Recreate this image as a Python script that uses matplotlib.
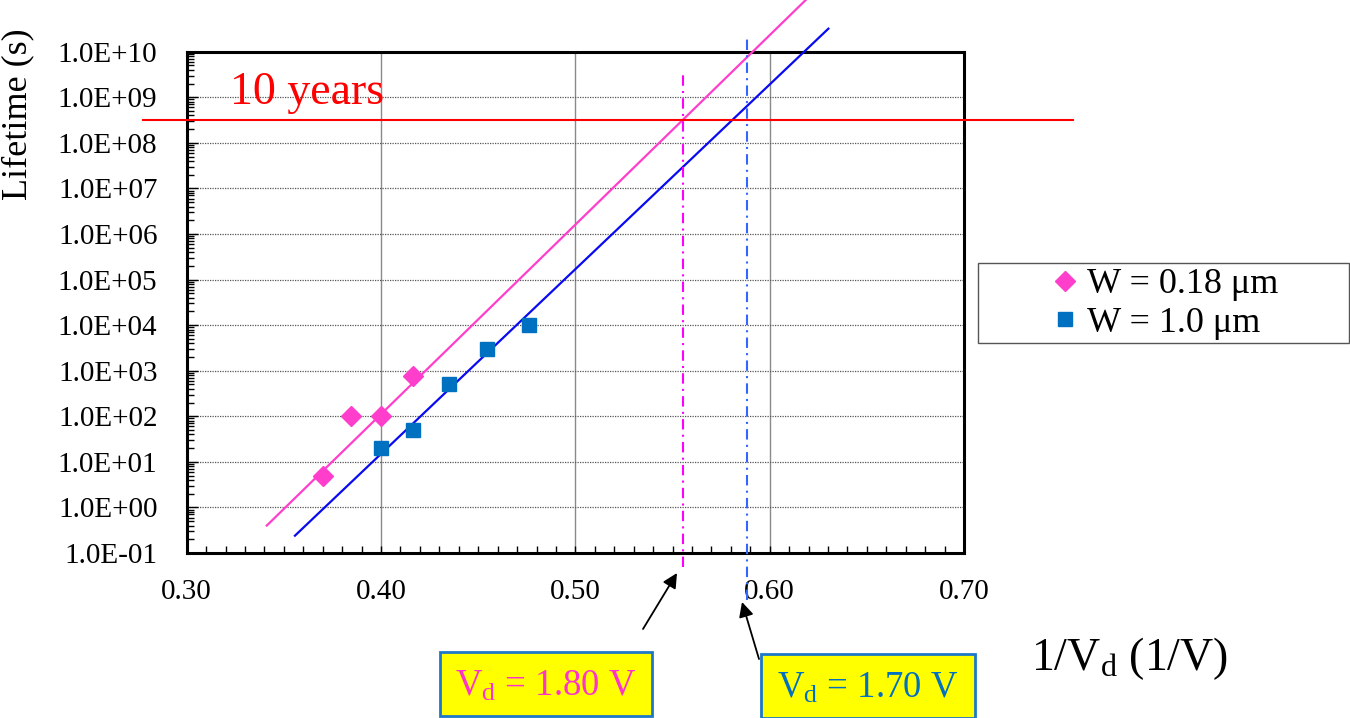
import matplotlib
matplotlib.use("Agg")
import matplotlib.pyplot as plt
from matplotlib.ticker import MultipleLocator, LogLocator, FuncFormatter, NullFormatter
from matplotlib.patches import Rectangle, FancyArrowPatch

plt.rcParams['font.family'] = ['Liberation Serif', 'DejaVu Serif']
plt.rcParams['mathtext.fontset'] = 'custom'
plt.rcParams['mathtext.rm'] = 'Liberation Serif'
plt.rcParams['mathtext.it'] = 'Liberation Serif:italic'

# ---- data ----
w018_x = [0.370, 0.3846, 0.400, 0.4167]
w018_y = [5.0, 100.0, 100.0, 750.0]
w10_x = [0.400, 0.4167, 0.4348, 0.4545, 0.476]
w10_y = [20.0, 50.0, 500.0, 3000.0, 10000.0]

fit018_x = [0.3412, 0.624]
fit018_y = [0.40, 2.3e11]
fit10_x = [0.3557, 0.6302]
fit10_y = [0.24, 3.2e10]

ten_years_s = 3.15e8
ten_years_x = [0.2775, 0.7561]
vd180_x = 1 / 1.80
vd170_x = 1 / 1.70
vd180_y = [0.05, 3.5e9]
vd170_y = [0.0095, 2.3e10]

xlim = (0.30, 0.70)
ylim = (1e-1, 1e10)
label_018 = 'W = 0.18 μm'
label_10 = 'W = 1.0 μm'

pink = '#FF3FCB'
pink_line = '#FF3FCB'
blue_sq = '#0070C0'
blue_line = '#0A0AF0'

fig = plt.figure(figsize=(13.5, 7.18), dpi=100)
ax = fig.add_axes([0.1383, 0.2298, 0.5758, 0.6982])

ax.set_yscale('log')
ax.set_xlim(*xlim)
ax.set_ylim(*ylim)

# grid
ax.yaxis.grid(True, which='major', color='#555555', linestyle=(0, (1, 1)), linewidth=0.9, zorder=0)
ax.xaxis.grid(True, which='major', color='#8a8a8a', linestyle='-', linewidth=1.0, zorder=0)
ax.set_axisbelow(True)

# fit lines
ax.plot(fit018_x, fit018_y, color=pink_line, lw=1.6, clip_on=False, zorder=3)
ax.plot(fit10_x, fit10_y, color=blue_line, lw=1.6, clip_on=False, zorder=3)

# 10 years line
ax.plot(ten_years_x, [ten_years_s, ten_years_s], color='#FF0000', lw=1.5, clip_on=False, zorder=3)

# vertical dash-dot lines
ax.plot([vd180_x, vd180_x], vd180_y, color='#FF00FF', lw=1.5, linestyle=(0, (5, 2.5, 1, 2.5)), clip_on=False, zorder=3)
ax.plot([vd170_x, vd170_x], vd170_y, color='#3366FF', lw=1.5, linestyle=(0, (5, 2.5, 1, 2.5)), clip_on=False, zorder=3)

# markers
h1, = ax.plot(w018_x, w018_y, linestyle='none', marker='D', ms=10.5, color=pink, mec=pink, zorder=4, label=label_018)
h2, = ax.plot(w10_x, w10_y, linestyle='none', marker='s', ms=10, color=blue_sq, mec=blue_sq, zorder=4, label=label_10)

# ticks
ax.xaxis.set_major_locator(MultipleLocator(0.1))
ax.xaxis.set_minor_locator(MultipleLocator(0.01))
ax.xaxis.set_major_formatter(FuncFormatter(lambda v, p: f"{v:.2f}"))
ax.yaxis.set_major_locator(LogLocator(base=10, numticks=20))
ax.yaxis.set_minor_locator(LogLocator(base=10, subs=range(2, 10), numticks=20))
ax.yaxis.set_major_formatter(FuncFormatter(lambda v, p: f"{v:.1E}"))
ax.yaxis.set_minor_formatter(NullFormatter())
ax.tick_params(axis='both', which='both', direction='in', top=False, right=False, width=1.0, color='black')
ax.tick_params(axis='x', which='major', length=5, labelsize=21, pad=19)
ax.tick_params(axis='x', which='minor', length=5)
ax.tick_params(axis='y', which='major', length=8, labelsize=21, pad=21)
ax.tick_params(axis='y', which='minor', length=5)

for s in ax.spines.values():
    s.set_linewidth(2.2)
    s.set_color('black')

# texts
fig.text(230 / 1350, 1 - 104 / 718, '10 years', color='#FF0000', fontsize=33, ha='left', va='baseline')
fig.text(18 / 1350, 1 - 114 / 718, 'Lifetime (s)', fontsize=26, rotation=90, ha='center', va='center')
fig.text(1130 / 1350, 1 - 670 / 718, r'1/V$_{\mathrm{d}}$ (1/V)', fontsize=33, ha='center', va='baseline')

# legend box
fig.patches.append(Rectangle((978 / 1350, 1 - 343 / 718), 371 / 1350, 80 / 718,
                             transform=fig.transFigure, facecolor='white', edgecolor='#555555', lw=1.0))
leg = fig.legend(handles=[h1, h2], loc='center', bbox_to_anchor=(1166 / 1350, 1 - 304 / 718),
                 frameon=False, fontsize=26, handlelength=0.6, handletextpad=0.3,
                 labelspacing=0.15, borderpad=0.2, markerscale=1.0)

# yellow boxes
fig.patches.append(Rectangle((440 / 1350, 1 - 716 / 718), 212 / 1350, 64 / 718,
                             transform=fig.transFigure, facecolor='#FFFF00', edgecolor='#1E78C8', lw=2.0))
fig.patches.append(Rectangle((761 / 1350, 1 - 718 / 718), 214 / 1350, 64 / 718,
                             transform=fig.transFigure, facecolor='#FFFF00', edgecolor='#1E78C8', lw=2.0, clip_on=False))
fig.text(546 / 1350, 1 - 686 / 718, r'V$_{\mathrm{d}}$ = 1.80 V', color='#FF33CC', fontsize=26.5, ha='center', va='center')
fig.text(868 / 1350, 1 - 688 / 718, r'V$_{\mathrm{d}}$ = 1.70 V', color='#0070C0', fontsize=26.5, ha='center', va='center')

# arrows
for (x0, y0, x1, y1) in [(643, 629, 677, 573), (759, 659, 742, 602)]:
    arr = FancyArrowPatch((x0 / 1350, 1 - y0 / 718), (x1 / 1350, 1 - y1 / 718),
                          transform=fig.transFigure, arrowstyle='-|>', mutation_scale=22,
                          color='black', lw=1.3, shrinkA=0, shrinkB=0)
    fig.patches.append(arr)

fig.savefig('out.png', dpi=100)
